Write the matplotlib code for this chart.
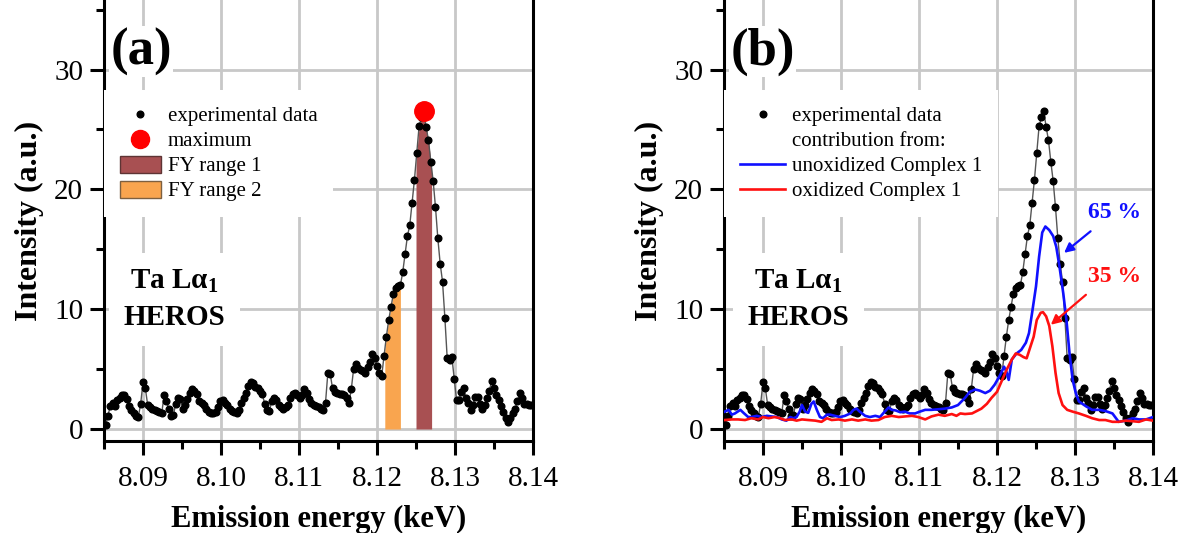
import numpy as np
import matplotlib
matplotlib.use('Agg')
import matplotlib.pyplot as plt
from matplotlib.lines import Line2D
from matplotlib.patches import Patch
from matplotlib.ticker import MultipleLocator, FormatStrFormatter

plt.rcParams['font.family'] = ['Liberation Serif', 'DejaVu Serif']
plt.rcParams['mathtext.fontset'] = 'custom'
plt.rcParams['mathtext.rm'] = 'Liberation Serif'
plt.rcParams['mathtext.it'] = 'Liberation Serif:italic'
plt.rcParams['mathtext.bf'] = 'Liberation Serif:bold'

# Ta La1 emission scan (HEROS), evenly stepped in energy
e_start = 8.0852   # keV
e_step = 0.0003    # keV
intensity = [
    0.3, 1.1, 1.9, 2.2, 1.9, 2.4, 2.6, 2.8, 2.8, 2.5,
    1.9, 1.6, 1.3, 1.1, 1.0, 2.1, 3.9, 3.4, 2.0, 1.8,
    1.7, 1.6, 1.5, 1.4, 1.3, 2.8, 2.3, 1.7, 1.1, 1.2,
    2.1, 2.6, 2.5, 1.7, 2.0, 2.5, 3.0, 3.3, 3.2, 2.9,
    2.3, 2.2, 2.0, 1.7, 1.4, 1.3, 1.3, 1.4, 1.8, 2.3,
    2.4, 2.2, 2.0, 1.7, 1.5, 1.4, 1.3, 1.6, 2.2,
    2.6, 3.0, 3.6, 3.9, 3.8, 3.5, 3.4, 3.2, 2.9, 2.1,
    1.6, 1.5, 2.3, 2.6, 2.4, 2.0, 1.8, 1.7, 1.8, 2.0,
    2.6, 2.9, 3.0, 2.8, 2.6, 2.8, 3.3, 3.0, 2.5, 2.2,
    2.0, 1.9, 1.8, 1.7, 1.6, 2.2, 4.7, 4.6, 3.4, 3.1,
    3.0, 2.9, 2.9, 2.8, 2.6, 2.2, 3.3, 5.0, 5.4, 5.1,
    4.9, 4.8, 4.7, 5.2, 5.6, 6.3, 5.9, 5.3, 4.7, 4.4,
    6.1, 7.7, 9.1, 10.2, 11.3, 11.8, 11.95, 12.0, 13.1, 14.6,
    16.1, 17.0, 18.9, 20.8, 23.0, 25.3, 26.0, 26.5, 25.2, 24.1,
    22.3, 20.7, 18.5, 15.9, 13.8, 12.3, 9.3, 5.9, 5.8, 6.0,
    4.2, 2.4, 2.4,
    3.1, 3.4, 2.6, 2.2, 1.6, 2.0, 2.7, 2.7, 2.1, 1.7,
    2.0, 2.6, 3.2, 4.0, 3.4, 2.8, 2.4, 1.9, 1.45, 0.9,
    0.6, 0.9, 1.3, 1.7, 2.3, 3.0, 2.6, 2.1, 2.1, 2.0, 2.0,
]
energy = e_start + e_step * np.arange(len(intensity))
intensity = np.array(intensity)

# fluorescence-yield integration windows (keV)
fy_range_1 = (8.125, 8.127)
fy_range_2 = (8.121, 8.123)

# fitted contributions
unox_energy = [
    8.0851, 8.0856, 8.0860, 8.0864, 8.0871, 8.0875, 8.0881, 8.0885, 8.0892, 8.0898,
    8.0905, 8.0911, 8.0918, 8.0924, 8.0930, 8.0935, 8.0939, 8.0943, 8.0947, 8.0950,
    8.0954, 8.0958, 8.0962, 8.0965, 8.0969, 8.0973, 8.0977, 8.0982, 8.0986, 8.0992,
    8.0999, 8.1005, 8.1012, 8.1016, 8.1020, 8.1024, 8.1031, 8.1037, 8.1044, 8.1050,
    8.1056, 8.1061, 8.1065, 8.1070, 8.1076, 8.1082, 8.1088, 8.1095, 8.1101, 8.1108,
    8.1116, 8.1125, 8.1133, 8.1142, 8.1150, 8.1159, 8.1165, 8.1172, 8.1178, 8.1185,
    8.1191, 8.1197, 8.1204, 8.1209, 8.1212, 8.1215, 8.1219, 8.1225, 8.1231, 8.1237,
    8.1241, 8.1245, 8.1250, 8.1254, 8.1258, 8.1262, 8.1267, 8.1272, 8.1276, 8.1280,
    8.1285, 8.1289, 8.1293, 8.1297, 8.1301, 8.1305, 8.1314, 8.1322, 8.1331, 8.1339,
    8.1348, 8.1356, 8.1365, 8.1374, 8.1382, 8.1391, 8.1400,
]
unox_intensity = [
    1.45, 1.6, 1.2, 1.3, 1.6, 1.35, 1.0, 1.0, 1.1, 1.0,
    1.1, 1.05, 1.0, 0.8, 0.7, 1.0, 0.9, 1.0, 1.45, 2.0,
    1.45, 1.35, 2.1, 2.3, 1.6, 1.0, 0.9, 1.2, 1.2, 1.1,
    1.0, 1.1, 1.3, 1.6, 1.7, 1.45, 1.1, 1.0, 1.1, 1.0,
    1.45, 1.8, 1.6, 1.55, 1.4, 1.45, 1.3, 1.3, 1.45, 1.6,
    1.6, 1.65, 1.7, 1.8, 2.0, 2.6, 3.1, 3.3, 3.2, 3.0,
    3.2, 3.7, 4.5, 5.2, 4.8, 4.1, 5.8, 6.3, 6.6, 7.2,
    8.0, 9.7, 11.9, 14.4, 16.4, 16.9, 16.6, 16.1, 15.2, 13.6,
    11.3, 9.1, 6.3, 4.1, 3.0, 2.3, 1.9, 1.6, 1.6, 1.5,
    1.3, 0.6, 0.7, 0.9, 0.8, 0.8, 1.0,
]
ox_energy = [
    8.0851, 8.0860, 8.0868, 8.0877, 8.0885, 8.0894, 8.0900, 8.0907, 8.0915, 8.0922,
    8.0928, 8.0937, 8.0943, 8.0950, 8.0958, 8.0967, 8.0975, 8.0982, 8.0988, 8.0997,
    8.1005, 8.1014, 8.1022, 8.1031, 8.1039, 8.1048, 8.1056, 8.1065, 8.1074, 8.1082,
    8.1091, 8.1099, 8.1108, 8.1116, 8.1125, 8.1133, 8.1142, 8.1148, 8.1153, 8.1159,
    8.1168, 8.1174, 8.1180, 8.1187, 8.1193, 8.1200, 8.1206, 8.1212, 8.1219, 8.1224,
    8.1229, 8.1234, 8.1238, 8.1242, 8.1247, 8.1251, 8.1256, 8.1259, 8.1263, 8.1267,
    8.1271, 8.1275, 8.1279, 8.1284, 8.1290, 8.1297, 8.1305, 8.1314, 8.1322, 8.1331,
    8.1339, 8.1348, 8.1356, 8.1365, 8.1374, 8.1382, 8.1391, 8.1400,
]
ox_intensity = [
    0.75, 0.8, 0.8, 0.75, 0.9, 0.8, 1.0, 0.9, 1.0, 0.9,
    0.75, 0.8, 0.7, 0.8, 0.75, 0.7, 0.6, 0.9, 0.75, 0.8,
    0.7, 0.8, 0.7, 0.8, 0.7, 0.75, 1.0, 1.1, 1.0, 1.05,
    1.1, 1.0, 0.8, 1.05, 1.2, 1.1, 1.25, 1.1, 1.3, 1.25,
    1.3, 1.5, 1.7, 2.1, 2.6, 3.1, 4.0, 4.9, 5.8, 6.3,
    6.2, 6.0, 5.9, 6.7, 7.7, 9.1, 9.7, 9.75, 9.4, 8.6,
    6.9, 4.7, 3.0, 2.0, 1.6, 1.45, 1.3, 1.1, 0.9, 0.75,
    0.75, 0.6, 0.6, 0.7, 0.65, 0.6, 0.8, 0.7,
]
share_unox = 65
share_ox = 35

BROWN = '#a85052'
ORANGE = '#f9a54f'
BLUE = '#1010ff'
RED = '#ff1010'
GRID = '#c8c8c8'
DOT_MS = 4.8


def style_axes(ax):
    ax.set_xlim(8.085, 8.14)
    ax.set_ylim(-1.0, 35.8)
    ax.xaxis.set_major_locator(MultipleLocator(0.01))
    ax.xaxis.set_minor_locator(MultipleLocator(0.005))
    ax.xaxis.set_major_formatter(FormatStrFormatter('%.2f'))
    ax.yaxis.set_major_locator(MultipleLocator(10))
    ax.yaxis.set_minor_locator(MultipleLocator(5))
    ax.set_axisbelow(True)
    ax.grid(True, which='major', color=GRID, lw=2.0)
    ax.spines['top'].set_visible(False)
    for side in ['left', 'bottom', 'right']:
        ax.spines[side].set_linewidth(2.2)
    ax.tick_params(which='major', direction='out', length=10, width=2.2,
                   labelsize=21, pad=5)
    ax.tick_params(axis='x', which='major', pad=8)
    ax.tick_params(which='minor', direction='out', length=6, width=2.2)
    ax.set_xlabel('Emission energy (keV)', fontsize=22, fontweight='bold', labelpad=9)
    ax.set_ylabel('Intensity (a.u.)', fontsize=23, fontweight='bold', labelpad=7)


def draw_scan(ax):
    ax.plot(energy, intensity, color='#555555', lw=1.0, zorder=3)
    ax.plot(energy, intensity, ls='none', marker='o', ms=DOT_MS, color='black', zorder=3)


def label_panel(ax, tag, x_label):
    ax.text(8.0858, 31.5, tag, fontsize=38, fontweight='bold', ha='left', va='center',
            bbox=dict(facecolor='white', edgecolor='none', pad=1), zorder=5)
    ax.text(x_label, 10.8, 'Ta L$\\mathbf{\\alpha}_\\mathbf{1}$\nHEROS', fontsize=21,
            fontweight='bold', ha='center', va='center', multialignment='center',
            linespacing=1.45,
            bbox=dict(boxstyle='square,pad=0.5', facecolor='white', edgecolor='none'),
            zorder=5)


def fy_fill(ax, window, color):
    lo, hi = window
    inside = (energy > lo) & (energy < hi)
    e_sub = np.concatenate([[lo], energy[inside], [hi]])
    i_sub = np.interp(e_sub, energy, intensity)
    ax.fill_between(e_sub, 0, i_sub, color=color, lw=0, zorder=2)


def add_legend(ax, handles, labels, handlelength):
    leg = ax.legend(handles, labels, loc='upper left', bbox_to_anchor=(0, 0.796),
                    borderaxespad=0, fontsize=15, frameon=True, fancybox=False,
                    framealpha=1, facecolor='white', edgecolor='none',
                    handlelength=handlelength, handleheight=0.9, handletextpad=0.3,
                    labelspacing=0.2, borderpad=0.75)
    leg.set_zorder(5)


fig = plt.figure(figsize=(11.82, 5.33), dpi=100)
ax1 = fig.add_axes([104 / 1182, 92 / 533, 429 / 1182, 441 / 533])
ax2 = fig.add_axes([724 / 1182, 92 / 533, 429 / 1182, 441 / 533])

# (a) scan with maximum and FY windows
style_axes(ax1)
fy_fill(ax1, fy_range_1, BROWN)
fy_fill(ax1, fy_range_2, ORANGE)
draw_scan(ax1)
i_max = np.argmax(intensity)
ax1.plot(energy[i_max], intensity[i_max], ls='none', marker='o', ms=14,
         color='red', zorder=4)
label_panel(ax1, '(a)', 8.0940)

handles_a = [
    Line2D([], [], ls='none', marker='o', ms=DOT_MS, color='black'),
    Line2D([], [], ls='none', marker='o', ms=13, color='red'),
    Patch(facecolor=BROWN, edgecolor='#5e3434', lw=1.0),
    Patch(facecolor=ORANGE, edgecolor='#7d6040', lw=1.0),
]
labels_a = ['experimental data', 'maximum', 'FY range 1', 'FY range 2']
add_legend(ax1, handles_a, labels_a, 2.0)

# (b) scan with the two fitted contributions
style_axes(ax2)
draw_scan(ax2)
ax2.plot(unox_energy, unox_intensity, color=BLUE, lw=1.9, zorder=4)
ax2.plot(ox_energy, ox_intensity, color=RED, lw=1.9, zorder=4)
label_panel(ax2, '(b)', 8.0945)

ax2.text(8.1351, 18.1, f'{share_unox} %', color=BLUE, fontsize=17, fontweight='bold',
         ha='center', va='center')
ax2.annotate('', xy=(8.1286, 14.7), xytext=(8.1320, 16.5),
             arrowprops=dict(arrowstyle='-|>', color=BLUE, lw=1.6, mutation_scale=14,
                             shrinkA=0, shrinkB=0), zorder=5)
ax2.text(8.1351, 12.7, f'{share_ox} %', color=RED, fontsize=17, fontweight='bold',
         ha='center', va='center')
ax2.annotate('', xy=(8.1269, 8.7), xytext=(8.1314, 11.2),
             arrowprops=dict(arrowstyle='-|>', color=RED, lw=1.6, mutation_scale=14,
                             shrinkA=0, shrinkB=0), zorder=5)

handles_b = [
    Line2D([], [], ls='none', marker='o', ms=DOT_MS, color='black'),
    Line2D([], [], ls='none', marker=None),
    Line2D([], [], color=BLUE, lw=1.9),
    Line2D([], [], color=RED, lw=1.9),
]
labels_b = ['experimental data', 'contribution from:', 'unoxidized Complex 1',
            'oxidized Complex 1']
add_legend(ax2, handles_b, labels_b, 2.2)

fig.savefig('out.png', dpi=100)
